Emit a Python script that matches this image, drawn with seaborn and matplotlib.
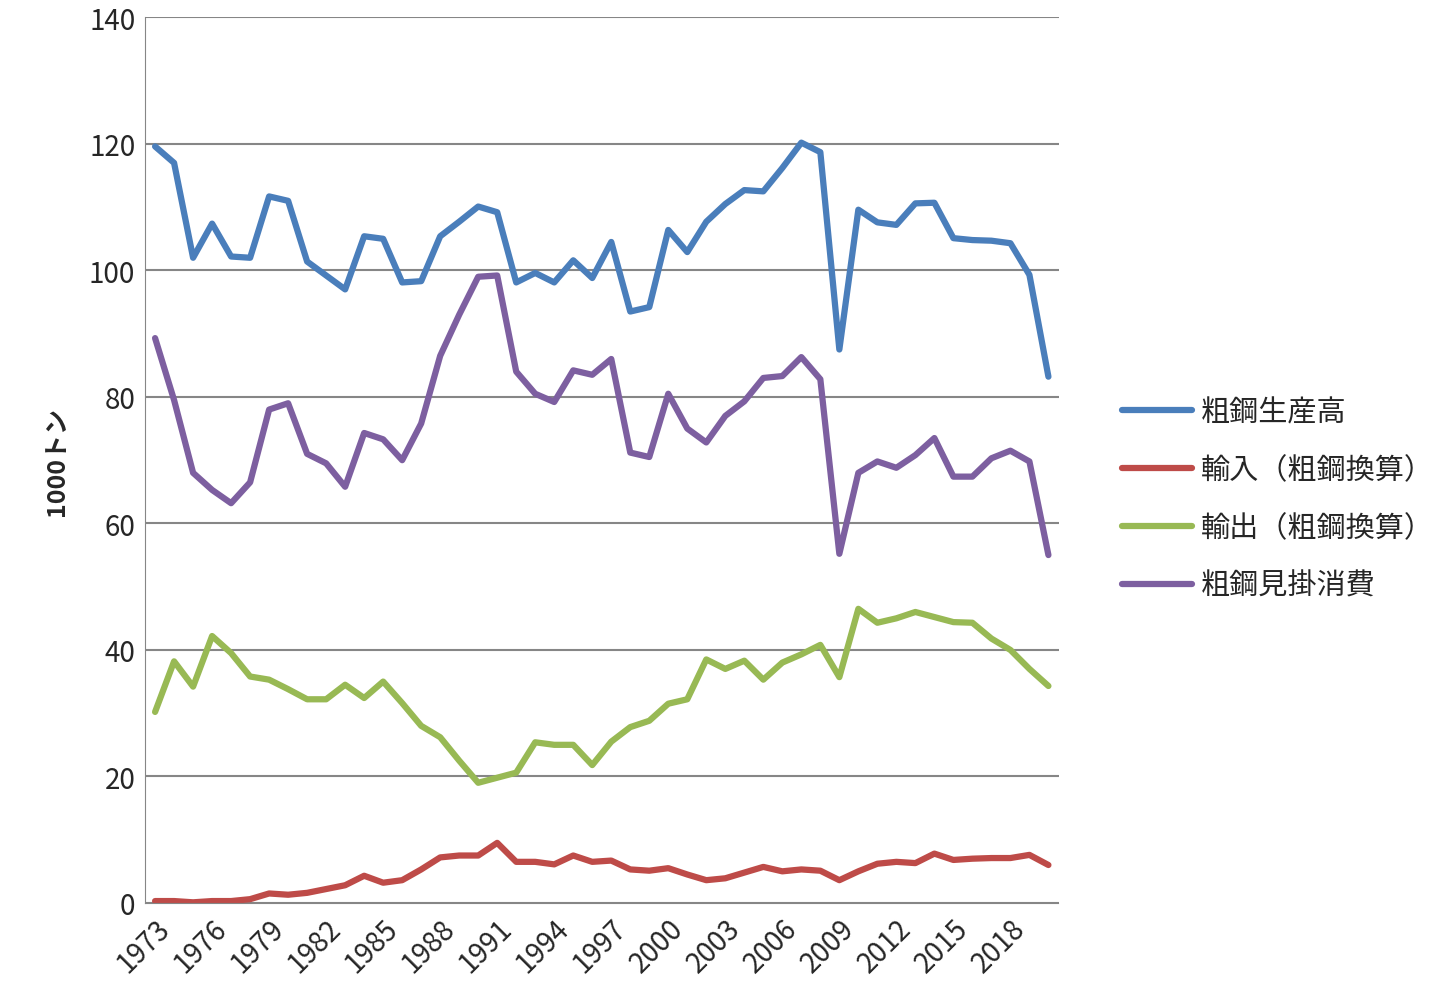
import numpy as np
import pandas as pd
import matplotlib
matplotlib.use('Agg')
import matplotlib.pyplot as plt
import seaborn as sns

years = list(range(1973, 2021))
production = [119.6, 117, 102, 107.4, 102.2, 102, 111.7, 111, 101.4, 99.2, 97, 105.4, 105, 98.1, 98.3, 105.4,
              107.7, 110.1, 109.2, 98.1, 99.6, 98.1, 101.6, 98.8, 104.5, 93.5, 94.2, 106.4, 102.9, 107.7, 110.5, 112.7,
              112.5, 116.2, 120.2, 118.7, 87.5, 109.6, 107.6, 107.2, 110.6, 110.7, 105.1, 104.8, 104.7, 104.3, 99.3, 83.2]
imports = [0.3, 0.3, 0.1, 0.3, 0.3, 0.6, 1.5, 1.3, 1.6, 2.2, 2.8, 4.3, 3.2, 3.6, 5.3, 7.2,
           7.5, 7.5, 9.5, 6.5, 6.5, 6.1, 7.5, 6.5, 6.7, 5.3, 5.1, 5.5, 4.5, 3.6, 3.9, 4.8,
           5.7, 5.0, 5.3, 5.1, 3.6, 5.0, 6.2, 6.5, 6.3, 7.8, 6.8, 7.0, 7.1, 7.1, 7.6, 6.0]
exports = [30.2, 38.2, 34.2, 42.2, 39.5, 35.8, 35.3, 33.8, 32.2, 32.2, 34.5, 32.4, 35, 31.6, 28, 26.2,
           22.5, 19, 19.8, 20.6, 25.4, 25, 25, 21.8, 25.5, 27.8, 28.8, 31.5, 32.2, 38.5, 37, 38.3,
           35.3, 38, 39.3, 40.8, 35.7, 46.5, 44.3, 45, 46, 45.2, 44.4, 44.3, 41.8, 40, 37, 34.3]
consumption = [89.3, 79.5, 68, 65.3, 63.2, 66.5, 78, 79, 71, 69.5, 65.8, 74.3, 73.3, 70, 75.8, 86.5,
               93, 99, 99.2, 84, 80.5, 79.2, 84.2, 83.5, 86, 71.2, 70.5, 80.5, 75, 72.8, 77, 79.3,
               83, 83.3, 86.3, 82.8, 55.2, 68, 69.8, 68.8, 70.8, 73.5, 67.4, 67.4, 70.3, 71.5, 69.8, 55]
names = ['粗鋼生産高', '輸入（粗鋼換算）', '輸出（粗鋼換算）', '粗鋼見掛消費']
colors = ['#4a7ebb', '#be4b48', '#98b954', '#7d5fa0']

df = pd.DataFrame({'year': years, names[0]: production, names[1]: imports,
                   names[2]: exports, names[3]: consumption})
long = df.melt(id_vars='year', var_name='series', value_name='value')

sns.set_style('white')
plt.rcParams['font.family'] = ['Noto Sans CJK JP', 'DejaVu Sans']

fig = plt.figure(figsize=(14.5, 9.95), dpi=100)
ax = fig.add_axes([0.1, 0.0915, 0.63, 0.89])
sns.lineplot(data=long, x='year', y='value', hue='series', hue_order=names,
             palette=colors, linewidth=4.5, ax=ax)

ax.set_xlim(1972.47, 2020.53)
ax.set_ylim(0, 140)
ax.set_yticks(range(0, 141, 20))
ax.set_xticks(range(1973, 2020, 3))
ax.set_xticklabels([str(y) for y in range(1973, 2020, 3)], rotation=45, ha='right',
                   rotation_mode='anchor', fontsize=20)
ax.tick_params(axis='y', labelsize=20)
ax.grid(axis='y', color='#868686', linewidth=1.5)
for s in ['top', 'right']:
    ax.spines[s].set_visible(False)
for s in ['left', 'bottom']:
    ax.spines[s].set_color('#868686')
ax.set_xlabel('')
ax.set_ylabel('1000トン', fontsize=18, fontweight='bold', labelpad=14)

ax.legend(loc='center left', bbox_to_anchor=(1.07, 0.456), frameon=False,
          borderaxespad=0, borderpad=0, fontsize=21, handlelength=2.4,
          handletextpad=0.3, labelspacing=0.95)

fig.savefig('out.png', dpi=100)
